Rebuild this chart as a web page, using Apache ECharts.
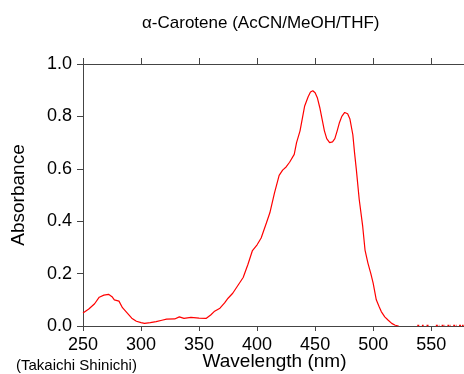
<!DOCTYPE html>
<html><head><meta charset="utf-8">
<script src="https://cdn.jsdelivr.net/npm/echarts@6/dist/echarts.min.js"></script>
<style>html,body{margin:0;padding:0;background:#fff}#c{width:464px;height:374px}</style>
</head><body><div id="c"></div>
<script>
const wavelengths = [250,255,260,264,268,272,275,277,281,284,288,292,296,300,303,308,313,318,322,329,333,337,343,350,356,360,363,368,372,375,379,382,385,388,392,396,400,403.5,408,411,415,419,422,425,428,432,434,437,441,444,446,448,450,452,454,456,458,460,462.5,465,467,469,471,473,475.5,478,480,482.5,484,485.5,488,491,493,495.5,498,500,502.7,505,507,510,513,516,519,522];
const absorbance = [0.05,0.065,0.085,0.11,0.118,0.121,0.112,0.10,0.095,0.07,0.05,0.03,0.018,0.013,0.010,0.013,0.017,0.022,0.026,0.027,0.035,0.029,0.033,0.03,0.029,0.042,0.055,0.068,0.088,0.106,0.125,0.145,0.165,0.185,0.234,0.288,0.31,0.336,0.393,0.432,0.508,0.575,0.595,0.607,0.625,0.655,0.70,0.745,0.84,0.875,0.893,0.898,0.89,0.87,0.834,0.79,0.745,0.715,0.70,0.703,0.715,0.745,0.777,0.80,0.815,0.81,0.79,0.73,0.66,0.598,0.483,0.38,0.29,0.24,0.2,0.164,0.10,0.075,0.055,0.035,0.022,0.01,0.003,0.0];
const noiseWl = [538,540,540.5,542,543.5,544,546,548,548.5,554,557,557.5,559,562,562.5,564,567,567.5,569,572,572.5,574,578];
const noiseAbs = [0.002,0.002,null,0.002,0.002,null,0.002,0.002,null,0.002,0.002,null,0.002,0.002,null,0.002,0.002,null,0.002,0.002,null,0.002,0.002];
const xTicks = [250,300,350,400,450,500,550];
const yTicks = [0,0.2,0.4,0.6,0.8,1.0];

const main = wavelengths.map((w,i)=>[w,absorbance[i]]);
const noise = noiseWl.map((w,i)=>[w,noiseAbs[i]]);
const font = 'Liberation Sans, Arial, sans-serif';
const chart = echarts.init(document.getElementById('c'));
chart.setOption({
  animation:false,
  title:{text:'α-Carotene (AcCN/MeOH/THF)',left:137,top:10,textStyle:{fontFamily:font,fontSize:17,fontWeight:'normal',color:'#000'}},
  graphic:[{type:'text',left:16,top:358,style:{text:'(Takaichi Shinichi)',font:'15px '+font,fill:'#000'}}],
  grid:{left:83,right:-2,top:64,bottom:48,containLabel:false,outerBoundsMode:'none'},
  xAxis:[{type:'value',min:250,max:580,interval:50,position:'bottom',
    name:'Wavelength (nm)',nameLocation:'middle',nameGap:26,nameMoveOverlap:false,
    nameTextStyle:{fontFamily:font,fontSize:19,color:'#000'},
    axisLine:{lineStyle:{color:'#444',width:1}},
    axisTick:{show:true,inside:false,length:5,lineStyle:{color:'#444'}},
    axisLabel:{fontFamily:font,fontSize:18,color:'#000',margin:10,showMaxLabel:false,
      formatter:v=>xTicks.includes(v)?String(v):''},
    splitLine:{show:false}},
   {type:'value',min:250,max:580,interval:50,position:'top',
    axisLine:{show:true,lineStyle:{color:'#444',width:1}},
    axisTick:{show:true,inside:false,length:6,lineStyle:{color:'#444'}},
    axisLabel:{show:false},splitLine:{show:false}}],
  yAxis:{type:'value',min:0,max:1,interval:0.2,
    name:'Absorbance',nameLocation:'middle',nameGap:55,nameMoveOverlap:false,
    nameTextStyle:{fontFamily:font,fontSize:19,color:'#000'},
    axisLine:{show:true,lineStyle:{color:'#444',width:1}},
    axisTick:{show:true,inside:false,length:6,lineStyle:{color:'#444'}},
    axisLabel:{fontFamily:font,fontSize:18,color:'#000',margin:11,
      formatter:v=>yTicks.some(t=>Math.abs(t-v)<1e-9)?v.toFixed(1):''},
    splitLine:{show:false}},
  series:[
    {type:'line',data:main,showSymbol:false,lineStyle:{color:'#ff0000',width:1.2},itemStyle:{color:'#ff0000'},z:5},
    {type:'line',data:noise,showSymbol:false,connectNulls:false,lineStyle:{color:'#ff0000',width:1.5,type:[2,1]},itemStyle:{color:'#ff0000'},z:5}
  ]
});
</script></body></html>
